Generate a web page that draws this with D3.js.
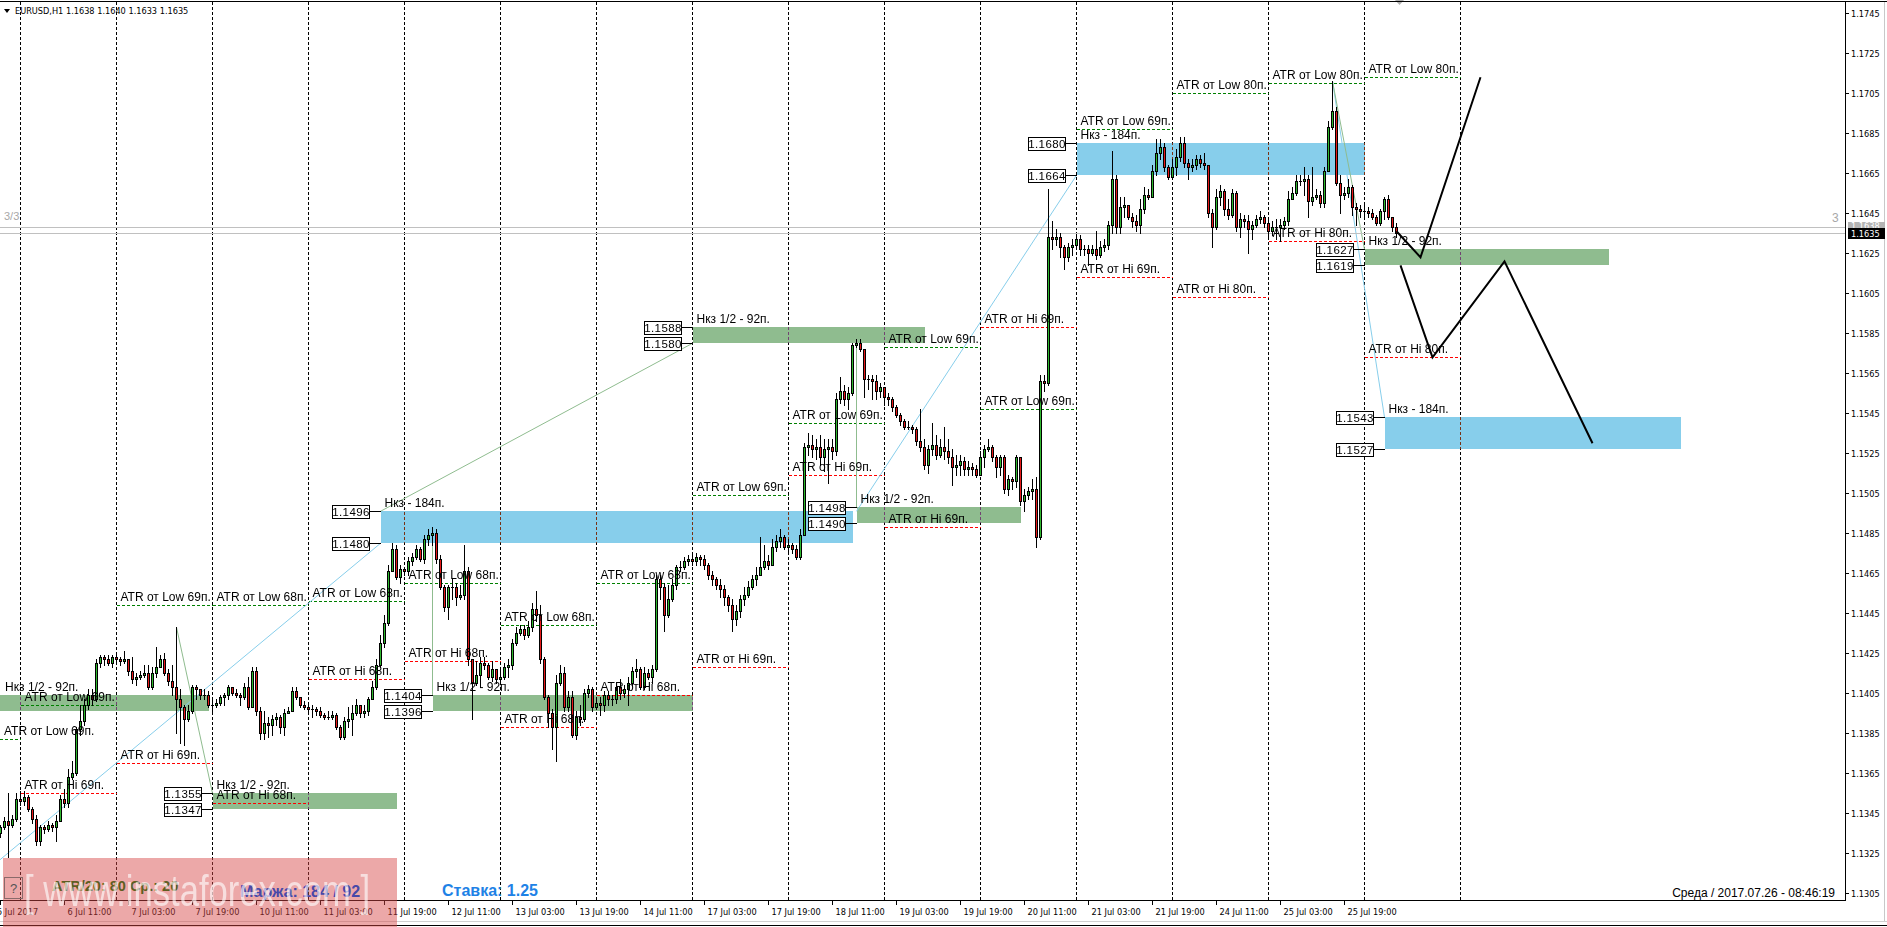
<!DOCTYPE html>
<html><head><meta charset="utf-8">
<script src="https://cdn.jsdelivr.net/npm/d3@7"></script>
<style>
html,body{margin:0;padding:0;background:#fff;overflow:hidden}
svg{display:block}
</style></head><body>
<svg id="c" width="1887" height="927"></svg>
<script>
// ---------------- DATA ----------------
const symbolHeader = "EURUSD,H1  1.1638 1.1640 1.1633 1.1635";
const tradingDays = ["5 Jul","6 Jul","7 Jul","10 Jul","11 Jul","12 Jul","13 Jul","14 Jul","17 Jul","18 Jul","19 Jul","20 Jul","21 Jul","24 Jul","25 Jul","26 Jul"];
const firstBarHour = 19;   // first bar: 5 Jul 19:00 (H1 bars)

const opens = [
1.1335,1.1338,1.1341,1.1339,1.1342,
1.1352,1.1351,1.1353,1.1347,1.1342,1.1331,1.1338,1.1337,1.1339,1.1338,1.1341,1.1352,1.1350,1.1363,1.1365,1.1387,1.1391,1.1399,1.1404,1.1402,1.1420,1.1423,1.1422,1.1420,
1.1423,1.1422,1.1421,1.1422,1.1416,1.1412,1.1413,1.1414,1.1415,1.1408,1.1415,1.1418,1.1422,1.1415,1.1411,1.1408,1.1402,1.1398,1.1392,1.1396,1.1408,1.1407,1.1404,1.1404,
1.1399,1.1399,1.1400,1.1403,1.1404,1.1408,1.1405,1.1404,1.1403,1.1408,1.1398,1.1416,1.1396,1.1385,1.1390,1.1389,1.1392,1.1393,1.1388,1.1395,1.1396,1.1406,1.1403,1.1399,
1.1398,1.1397,1.1397,1.1396,1.1394,1.1393,1.1393,1.1394,1.1388,1.1383,1.1391,1.1392,1.1395,1.1399,1.1395,1.1396,1.1402,1.1408,1.1419,1.1430,1.1440,1.1466,1.1477,1.1463,
1.1467,1.1466,1.1471,1.1473,1.1477,1.1472,1.1482,1.1484,1.1485,1.1472,1.1458,1.1448,1.1458,1.1458,1.1453,1.1454,1.1466,1.1422,1.1410,1.1414,1.1420,1.1419,1.1413,1.1417,
1.1412,1.1413,1.1418,1.1419,1.1430,1.1435,1.1437,1.1434,1.1438,1.1447,1.1444,1.1422,1.1403,1.1395,1.1388,1.1410,1.1415,1.1398,1.1403,1.1384,1.1393,1.1392,1.1405,1.1407,
1.1398,1.1400,1.1399,1.1404,1.1402,1.1402,1.1408,1.1405,1.1407,1.1410,1.1416,1.1417,1.1408,1.1415,1.1413,1.1417,1.1462,1.1458,1.1444,1.1452,1.1459,1.1468,1.1468,1.1471,
1.1472,1.1471,1.1473,1.1472,1.1469,1.1464,1.1462,1.1459,1.1457,1.1453,1.1449,1.1442,1.1446,1.1452,1.1454,1.1458,1.1462,1.1464,1.1468,1.1471,1.1469,1.1478,1.1481,1.1483,
1.1478,1.1479,1.1477,1.1473,1.1484,1.1528,1.1529,1.1527,1.1528,1.1523,1.1527,1.1528,1.1526,1.1552,1.1556,1.1552,1.1555,1.1579,1.1580,1.1577,1.1562,1.1562,1.1561,1.1556,
1.1558,1.1553,1.1552,1.1548,1.1544,1.1541,1.1538,1.1538,1.1537,1.1531,1.1528,1.1519,1.1527,1.1529,1.1524,1.1528,1.1526,1.1523,1.1518,1.1519,1.1521,1.1517,1.1518,1.1517,
1.1514,1.1523,1.1527,1.1528,1.1523,1.1518,1.1523,1.1507,1.1512,1.1511,1.1523,1.1501,1.1504,1.1506,1.1507,1.1483,1.1561,1.1560,1.1633,1.1632,1.1633,1.1628,1.1623,1.1628,
1.1629,1.1632,1.1627,1.1627,1.1625,1.1627,1.1624,1.1628,1.1629,1.1639,1.1662,1.1638,1.1648,1.1649,1.1643,1.1641,1.1639,1.1647,1.1654,1.1653,1.1666,1.1675,1.1678,1.1668,
1.1663,1.1668,1.1673,1.1680,1.1670,1.1668,1.1669,1.1672,1.1670,1.1669,1.1645,1.1638,1.1653,1.1656,1.1647,1.1644,1.1655,1.1638,1.1642,1.1641,1.1637,1.1639,1.1642,1.1643,
1.1640,1.1636,1.1638,1.1638,1.1639,1.1641,1.1652,1.1655,1.1661,1.1661,1.1662,1.1651,1.1653,1.1654,1.1650,1.1666,1.1688,1.1696,1.1660,1.1654,1.1655,1.1658,1.1648,1.1647,
1.1646,1.1646,1.1645,1.1643,1.1640,1.1646,1.1652,1.1643,1.1638];

const highs = [
1.1339,1.1343,1.1355,1.1344,1.1355,
1.1356,1.1356,1.1354,1.1348,1.1344,1.1339,1.1339,1.1341,1.1340,1.1344,1.1354,1.1357,1.1367,1.1371,1.1388,1.1399,1.1402,1.1407,1.1407,1.1422,1.1424,1.1424,1.1424,1.1424,
1.1424,1.1423,1.1426,1.1422,1.1423,1.1415,1.1416,1.1419,1.1419,1.1418,1.1428,1.1424,1.1425,1.1417,1.1419,1.1438,1.1407,1.1399,1.1399,1.1409,1.1409,1.1407,1.1407,1.1406,
1.1402,1.1402,1.1404,1.1405,1.1409,1.1408,1.1407,1.1405,1.1410,1.1413,1.1418,1.1418,1.1398,1.1396,1.1393,1.1394,1.1395,1.1394,1.1397,1.1398,1.1408,1.1408,1.1403,1.1401,
1.1400,1.1399,1.1398,1.1398,1.1395,1.1396,1.1396,1.1395,1.1389,1.1393,1.1398,1.1399,1.1402,1.1399,1.1399,1.1403,1.1411,1.1422,1.1434,1.1444,1.1469,1.1480,1.1479,1.1469,
1.1468,1.1473,1.1475,1.1479,1.1478,1.1484,1.1487,1.1488,1.1487,1.1474,1.1459,1.1459,1.1462,1.1460,1.1459,1.1479,1.1468,1.1421,1.1421,1.1423,1.1423,1.1420,1.1421,1.1416,
1.1417,1.1420,1.1422,1.1432,1.1438,1.1439,1.1439,1.1441,1.1450,1.1456,1.1449,1.1423,1.1404,1.1397,1.1414,1.1419,1.1418,1.1406,1.1406,1.1396,1.1399,1.1407,1.1409,1.1408,
1.1403,1.1403,1.1406,1.1406,1.1404,1.1410,1.1412,1.1409,1.1413,1.1418,1.1422,1.1418,1.1418,1.1417,1.1419,1.1464,1.1464,1.1460,1.1459,1.1462,1.1469,1.1471,1.1473,1.1474,
1.1474,1.1475,1.1474,1.1474,1.1470,1.1466,1.1463,1.1462,1.1459,1.1454,1.1452,1.1449,1.1454,1.1458,1.1461,1.1464,1.1468,1.1483,1.1479,1.1474,1.1482,1.1484,1.1487,1.1484,
1.1482,1.1480,1.1479,1.1487,1.1530,1.1535,1.1534,1.1532,1.1534,1.1532,1.1532,1.1532,1.1555,1.1563,1.1559,1.1558,1.1580,1.1582,1.1582,1.1577,1.1564,1.1564,1.1564,1.1560,
1.1557,1.1555,1.1553,1.1549,1.1545,1.1542,1.1541,1.1539,1.1538,1.1547,1.1532,1.1529,1.1540,1.1534,1.1532,1.1538,1.1532,1.1527,1.1524,1.1524,1.1523,1.1521,1.1520,1.1519,
1.1526,1.1529,1.1532,1.1529,1.1524,1.1524,1.1524,1.1514,1.1513,1.1524,1.1523,1.1507,1.1508,1.1512,1.1513,1.1564,1.1564,1.1657,1.1641,1.1637,1.1635,1.1629,1.1630,1.1632,
1.1634,1.1634,1.1629,1.1629,1.1629,1.1636,1.1631,1.1632,1.1641,1.1676,1.1664,1.1653,1.1653,1.1649,1.1645,1.1644,1.1652,1.1658,1.1657,1.1669,1.1682,1.1682,1.1680,1.1669,
1.1672,1.1677,1.1683,1.1683,1.1672,1.1672,1.1674,1.1674,1.1675,1.1669,1.1647,1.1657,1.1659,1.1657,1.1652,1.1657,1.1656,1.1645,1.1644,1.1644,1.1641,1.1644,1.1646,1.1644,
1.1643,1.1641,1.1642,1.1642,1.1643,1.1656,1.1658,1.1664,1.1664,1.1668,1.1664,1.1668,1.1657,1.1656,1.1668,1.1691,1.1711,1.1698,1.1664,1.1658,1.1662,1.1659,1.1650,1.1649,
1.1649,1.1648,1.1647,1.1644,1.1647,1.1653,1.1654,1.1643,1.1640];

const lows = [
1.1333,1.1337,1.1323,1.1338,1.1341,
1.1349,1.1349,1.1346,1.1340,1.1329,1.1329,1.1335,1.1336,1.1336,1.1331,1.1341,1.1348,1.1348,1.1362,1.1364,1.1384,1.1389,1.1397,1.1399,1.1401,1.1418,1.1419,1.1419,1.1418,
1.1421,1.1419,1.1420,1.1414,1.1410,1.1409,1.1412,1.1413,1.1407,1.1407,1.1413,1.1418,1.1414,1.1409,1.1404,1.1385,1.1380,1.1379,1.1391,1.1395,1.1402,1.1402,1.1402,1.1398,
1.1396,1.1398,1.1399,1.1399,1.1402,1.1404,1.1403,1.1399,1.1402,1.1397,1.1398,1.1394,1.1382,1.1382,1.1383,1.1384,1.1389,1.1385,1.1384,1.1395,1.1396,1.1402,1.1398,1.1397,
1.1395,1.1393,1.1394,1.1393,1.1392,1.1392,1.1392,1.1387,1.1382,1.1382,1.1388,1.1384,1.1394,1.1393,1.1393,1.1394,1.1402,1.1407,1.1418,1.1428,1.1439,1.1466,1.1462,1.1460,
1.1464,1.1464,1.1469,1.1472,1.1471,1.1470,1.1479,1.1479,1.1470,1.1457,1.1446,1.1442,1.1452,1.1449,1.1452,1.1452,1.1419,1.1392,1.1409,1.1408,1.1417,1.1412,1.1411,1.1410,
1.1411,1.1412,1.1413,1.1417,1.1429,1.1434,1.1432,1.1433,1.1436,1.1441,1.1420,1.1402,1.1388,1.1377,1.1371,1.1409,1.1396,1.1396,1.1383,1.1382,1.1389,1.1391,1.1403,1.1396,
1.1397,1.1394,1.1396,1.1399,1.1399,1.1400,1.1402,1.1403,1.1399,1.1409,1.1413,1.1407,1.1407,1.1412,1.1410,1.1416,1.1452,1.1436,1.1443,1.1451,1.1457,1.1466,1.1467,1.1469,
1.1469,1.1469,1.1469,1.1467,1.1462,1.1459,1.1457,1.1453,1.1449,1.1446,1.1436,1.1439,1.1443,1.1449,1.1453,1.1457,1.1459,1.1464,1.1467,1.1467,1.1472,1.1476,1.1478,1.1477,
1.1476,1.1475,1.1472,1.1472,1.1484,1.1524,1.1523,1.1522,1.1519,1.1516,1.1510,1.1522,1.1524,1.1550,1.1549,1.1547,1.1554,1.1578,1.1576,1.1553,1.1557,1.1552,1.1552,1.1553,
1.1549,1.1549,1.1546,1.1543,1.1539,1.1537,1.1537,1.1535,1.1529,1.1526,1.1517,1.1515,1.1524,1.1522,1.1523,1.1522,1.1520,1.1509,1.1514,1.1514,1.1514,1.1514,1.1514,1.1513,
1.1517,1.1518,1.1526,1.1521,1.1513,1.1514,1.1505,1.1504,1.1507,1.1508,1.1499,1.1496,1.1502,1.1502,1.1478,1.1482,1.1556,1.1559,1.1627,1.1629,1.1623,1.1617,1.1621,1.1624,
1.1627,1.1624,1.1624,1.1619,1.1624,1.1622,1.1623,1.1626,1.1627,1.1635,1.1635,1.1635,1.1643,1.1642,1.1638,1.1636,1.1635,1.1645,1.1652,1.1653,1.1664,1.1672,1.1666,1.1662,
1.1662,1.1664,1.1671,1.1668,1.1662,1.1666,1.1667,1.1668,1.1667,1.1643,1.1628,1.1637,1.1649,1.1644,1.1642,1.1643,1.1636,1.1633,1.1638,1.1625,1.1632,1.1638,1.1640,1.1638,
1.1633,1.1634,1.1632,1.1631,1.1637,1.1639,1.1652,1.1654,1.1659,1.1654,1.1643,1.1649,1.1652,1.1648,1.1648,1.1666,1.1687,1.1659,1.1645,1.1652,1.1653,1.1644,1.1639,1.1643,
1.1643,1.1643,1.1642,1.1639,1.1639,1.1642,1.1642,1.1636,1.1633];

const closes = [
1.1338,1.1341,1.1339,1.1342,1.1352,
1.1351,1.1353,1.1347,1.1342,1.1331,1.1338,1.1337,1.1339,1.1338,1.1341,1.1352,1.1350,1.1363,1.1365,1.1387,1.1391,1.1399,1.1404,1.1402,1.1420,1.1423,1.1422,1.1420,1.1423,
1.1422,1.1421,1.1422,1.1416,1.1412,1.1413,1.1414,1.1415,1.1408,1.1415,1.1418,1.1422,1.1415,1.1411,1.1408,1.1402,1.1398,1.1392,1.1396,1.1408,1.1407,1.1404,1.1404,1.1399,
1.1399,1.1400,1.1403,1.1404,1.1408,1.1405,1.1404,1.1403,1.1408,1.1398,1.1416,1.1396,1.1385,1.1390,1.1389,1.1392,1.1393,1.1388,1.1395,1.1396,1.1406,1.1403,1.1399,1.1398,
1.1397,1.1397,1.1396,1.1394,1.1393,1.1393,1.1394,1.1388,1.1383,1.1391,1.1392,1.1395,1.1399,1.1395,1.1396,1.1402,1.1408,1.1419,1.1430,1.1440,1.1466,1.1477,1.1463,1.1467,
1.1466,1.1471,1.1473,1.1477,1.1472,1.1482,1.1484,1.1485,1.1472,1.1458,1.1448,1.1458,1.1458,1.1453,1.1454,1.1466,1.1422,1.1410,1.1414,1.1420,1.1419,1.1413,1.1417,1.1412,
1.1413,1.1418,1.1419,1.1430,1.1435,1.1437,1.1434,1.1438,1.1447,1.1444,1.1422,1.1403,1.1395,1.1388,1.1410,1.1415,1.1398,1.1403,1.1384,1.1393,1.1392,1.1405,1.1407,1.1398,
1.1400,1.1399,1.1404,1.1402,1.1402,1.1408,1.1405,1.1407,1.1410,1.1416,1.1417,1.1408,1.1415,1.1413,1.1417,1.1462,1.1458,1.1444,1.1452,1.1459,1.1468,1.1468,1.1471,1.1472,
1.1471,1.1473,1.1472,1.1469,1.1464,1.1462,1.1459,1.1457,1.1453,1.1449,1.1442,1.1446,1.1452,1.1454,1.1458,1.1462,1.1464,1.1468,1.1471,1.1469,1.1478,1.1481,1.1483,1.1478,
1.1479,1.1477,1.1473,1.1484,1.1528,1.1529,1.1527,1.1528,1.1523,1.1527,1.1528,1.1526,1.1552,1.1556,1.1552,1.1555,1.1579,1.1580,1.1577,1.1562,1.1562,1.1561,1.1556,1.1558,
1.1553,1.1552,1.1548,1.1544,1.1541,1.1538,1.1538,1.1537,1.1531,1.1528,1.1519,1.1527,1.1529,1.1524,1.1528,1.1526,1.1523,1.1518,1.1519,1.1521,1.1517,1.1518,1.1517,1.1514,
1.1523,1.1527,1.1528,1.1523,1.1518,1.1523,1.1507,1.1512,1.1511,1.1523,1.1501,1.1504,1.1506,1.1507,1.1483,1.1561,1.1560,1.1633,1.1632,1.1633,1.1628,1.1623,1.1628,1.1629,
1.1632,1.1627,1.1627,1.1625,1.1627,1.1624,1.1628,1.1629,1.1639,1.1662,1.1638,1.1648,1.1649,1.1643,1.1641,1.1639,1.1647,1.1654,1.1653,1.1666,1.1675,1.1678,1.1668,1.1663,
1.1668,1.1673,1.1680,1.1670,1.1668,1.1669,1.1672,1.1670,1.1669,1.1645,1.1638,1.1653,1.1656,1.1647,1.1644,1.1655,1.1638,1.1642,1.1641,1.1637,1.1639,1.1642,1.1643,1.1640,
1.1636,1.1638,1.1638,1.1639,1.1641,1.1652,1.1655,1.1661,1.1661,1.1662,1.1651,1.1653,1.1654,1.1650,1.1666,1.1688,1.1696,1.1660,1.1654,1.1655,1.1658,1.1648,1.1647,1.1646,
1.1646,1.1645,1.1643,1.1640,1.1646,1.1652,1.1643,1.1638,1.1635];

const timeLabels = ["5 Jul 2017","6 Jul 11:00","7 Jul 03:00","7 Jul 19:00","10 Jul 11:00","11 Jul 03:00","11 Jul 19:00","12 Jul 11:00","13 Jul 03:00","13 Jul 19:00","14 Jul 11:00","17 Jul 03:00","17 Jul 19:00","18 Jul 11:00","19 Jul 03:00","19 Jul 19:00","20 Jul 11:00","21 Jul 03:00","21 Jul 19:00","24 Jul 11:00","25 Jul 03:00","25 Jul 19:00"];
const priceTicks = [1.1745,1.1725,1.1705,1.1685,1.1665,1.1645,1.1625,1.1605,1.1585,1.1565,1.1545,1.1525,1.1505,1.1485,1.1465,1.1445,1.1425,1.1405,1.1385,1.1365,1.1345,1.1325,1.1305];

// daily ATR levels (one per trading day), price and pips
const atrLowLevels = [1.1382,1.1399,1.1449,1.1449,1.1451,1.1460,1.1439,1.1460,1.1504,1.1540,1.1578,1.1547,1.1687,1.1705,1.1710,1.1713];
const atrLowPips   = [69,69,69,68,68,68,68,68,69,69,69,69,69,80,80,80];
const atrHiLevels  = [null,1.1355,1.1370,1.1350,1.1412,1.1421,1.1388,1.1404,1.1418,1.1514,1.1488,1.1588,1.1613,1.1603,1.1631,1.1573];
const atrHiPips    = [69,69,69,68,68,68,68,68,69,69,69,69,69,80,80,80];

// zones: bar indices (0 = 5 Jul 19:00), price top/bottom
const zoneKind   = ["half","half","half","half","half","half","full","full","full"];
const zoneStart  = [-9, 53, 108, 173, 214, 341, 95, 269, 346];
const zoneEnd    = [52, 99, 173, 231, 255, 402, 213, 341, 420];
const zoneTop    = [1.1404,1.1355,1.1404,1.1588,1.1498,1.1627,1.1496,1.1680,1.1543];
const zoneBottom = [1.1396,1.1347,1.1396,1.1580,1.1490,1.1619,1.1480,1.1664,1.1527];
const zoneLabelText = {half:"Нкз 1/2 - 92п.", full:"Нкз - 184п."};

// thin connector trendlines [bar, price] -> [bar, price]
const blueLines  = [[[-3,1.1317],[95,1.1480]], [[214,1.1496],[269,1.1664]], [[333,1.1711],[346,1.1543]]];
const greenLines = [[[44,1.1438],[53,1.1355]], [[95,1.1496],[173,1.1580]], [[108,1.1488],[108,1.1404]], [[214,1.1582],[214,1.1498]], [[333,1.1711],[341,1.1627]]];

// hand-drawn forecast paths
const forecastA = [[349,1.1636],[355,1.1623],[370,1.1713]];
const forecastB = [[350,1.1619],[358,1.1573],[376,1.1621],[398,1.1530]];

const askPrice = 1.1638, bidPrice = 1.1635;
const infoAtr = "ATR/20: 80 Ср.: 20", infoMargin = "Маржа: 184 / 92", infoRate = "Ставка: 1.25";
const footerDate = "Среда / 2017.07.26 - 08:46:19";

// ---------------- DRAW ----------------
const svg = d3.select("#c");
const plotR = 1845, plotB = 900, plotT = 2;
const x = d3.scaleLinear().domain([0, 1]).range([0.5, 4.5]);
const y = d3.scaleLinear().domain([1.1300, 1.1745]).range([903.3, 13.3]);
const sans = "'Liberation Sans', Arial, sans-serif";
const small = "'DejaVu Sans', Tahoma, sans-serif";

svg.append("rect").attr("width",1887).attr("height",927).attr("fill","#fff");
svg.append("defs").append("clipPath").attr("id","pc").append("rect")
  .attr("x",0).attr("y",plotT).attr("width",plotR).attr("height",plotB-plotT);
const plot = svg.append("g").attr("clip-path","url(#pc)");
plot.append("rect").attr("x",0).attr("y",0).attr("width",plotR).attr("height",plotB).attr("fill","#fff");

// bar times
const barTimes = [];
tradingDays.forEach((d,di)=>{
  const h0 = di===0 ? firstBarHour : 0;
  for(let h=h0; h<24 && barTimes.length<closes.length; h++) barTimes.push(d+" "+String(h).padStart(2,"0")+":00");
});
const dayStart = tradingDays.map((d,di)=> barTimes.indexOf(d+" "+(di===0? String(firstBarHour).padStart(2,"0"):"00")+":00") - (di===0?firstBarHour:0));
dayStart.push(dayStart[dayStart.length-1]+24);

const colGreenZone="#8fbc8f", colBlueZone="#87ceeb";
const py = p => Math.round(y(p));

// zones
const gz = plot.append("g").attr("shape-rendering","crispEdges");
zoneStart.forEach((s,i)=>{
  const x0 = x(s), x1 = x(zoneEnd[i]);
  gz.append("rect").attr("x",x0).attr("y",py(zoneTop[i])).attr("width",x1-x0)
    .attr("height",py(zoneBottom[i])-py(zoneTop[i]))
    .attr("fill", zoneKind[i]==="half"?colGreenZone:colBlueZone);
});

// day separators (inverted over zones like MT4)
const gs = plot.append("g").attr("shape-rendering","crispEdges").style("mix-blend-mode","difference");
dayStart.slice(1).forEach(ds=>{
  gs.append("line").attr("x1",Math.floor(x(ds))+0.5).attr("x2",Math.floor(x(ds))+0.5)
    .attr("y1",plotT).attr("y2",plotB).attr("stroke","#fff").attr("stroke-dasharray","3,2");
});

// ATR lines
const ga = plot.append("g").attr("shape-rendering","crispEdges");
tradingDays.forEach((d,di)=>{
  const xa = Math.floor(x(dayStart[di]))+0.5, xb = Math.floor(x(dayStart[di+1]))+0.5;
  if(atrLowLevels[di]!=null) ga.append("line").attr("x1",xa).attr("x2",xb).attr("y1",py(atrLowLevels[di])+0.5).attr("y2",py(atrLowLevels[di])+0.5)
    .attr("stroke","#008000").attr("stroke-dasharray","3,2");
  if(atrHiLevels[di]!=null) ga.append("line").attr("x1",xa).attr("x2",xb).attr("y1",py(atrHiLevels[di])+0.5).attr("y2",py(atrHiLevels[di])+0.5)
    .attr("stroke","#ff0000").attr("stroke-dasharray","3,2");
});

// thin trendlines
blueLines.forEach(l=> plot.append("line").attr("x1",x(l[0][0])).attr("y1",y(l[0][1])).attr("x2",x(l[1][0])).attr("y2",y(l[1][1]))
  .attr("stroke","#87ceeb").attr("stroke-width",1));
greenLines.forEach(l=> plot.append("line").attr("x1",x(l[0][0])).attr("y1",y(l[0][1])).attr("x2",x(l[1][0])).attr("y2",y(l[1][1]))
  .attr("stroke","#8fbc8f").attr("stroke-width",1));

// ask / bid lines
[askPrice,bidPrice].forEach(p=> plot.append("line").attr("x1",0).attr("x2",plotR).attr("y1",py(p)+0.5).attr("y2",py(p)+0.5)
  .attr("stroke","#c0c0c0").attr("shape-rendering","crispEdges"));

// candles
const gc = plot.append("g").attr("shape-rendering","crispEdges");
closes.forEach((c,i)=>{
  const o=opens[i], h=Math.max(highs[i],o,c), l=Math.min(lows[i],o,c);
  const cx = Math.floor(x(i));
  gc.append("line").attr("x1",cx+0.5).attr("x2",cx+0.5).attr("y1",py(h)).attr("y2",py(l)+1).attr("stroke","#000");
  const yo=py(o), yc=py(c), top=Math.min(yo,yc), bot=Math.max(yo,yc);
  if(bot-top<1){
    gc.append("line").attr("x1",cx-1).attr("x2",cx+2).attr("y1",top+0.5).attr("y2",top+0.5).attr("stroke","#000");
  } else {
    gc.append("rect").attr("x",cx-0.5).attr("y",top+0.5).attr("width",2).attr("height",bot-top)
      .attr("fill", c>=o ? "#2eb82e" : "#e61919").attr("stroke","#000");
  }
});

// labels
const gt = plot.append("g").attr("font-family",sans).attr("font-size",12).attr("fill","#000");
tradingDays.forEach((d,di)=>{
  const xl = Math.max(x(dayStart[di]),0)+4;
  if(atrLowLevels[di]!=null) gt.append("text").attr("x",xl).attr("y",y(atrLowLevels[di])-4.5).text("ATR от Low "+atrLowPips[di]+"п.");
  if(atrHiLevels[di]!=null) gt.append("text").attr("x",xl).attr("y",y(atrHiLevels[di])-4.5).text("ATR от Hi "+atrHiPips[di]+"п.");
});
zoneStart.forEach((s,i)=>{
  const x0 = x(s);
  gt.append("text").attr("x",Math.max(x0,1)+4).attr("y",y(zoneTop[i])-4.5).text(zoneLabelText[zoneKind[i]]);
  if(x0>0){
    [zoneTop[i],zoneBottom[i]].forEach(p=>{
      const yy = py(p)+0.5, bx = Math.floor(x0)-47.5;
      gt.append("line").attr("x1",bx+37).attr("x2",x0).attr("y1",yy).attr("y2",yy).attr("stroke","#000").attr("shape-rendering","crispEdges");
      gt.append("rect").attr("x",bx).attr("y",yy-6.5).attr("width",37).attr("height",13).attr("fill","#fff").attr("stroke","#000").attr("shape-rendering","crispEdges");
      gt.append("text").attr("x",bx+18.5).attr("y",yy+4).attr("text-anchor","middle").attr("font-size",11.5).attr("letter-spacing",0.4).text(p.toFixed(4));
    });
  }
});

// forecast paths
const lineGen = d3.line().x(d=>x(d[0])).y(d=>y(d[1]));
[forecastA,forecastB].forEach(f=> plot.append("path").attr("d",lineGen(f)).attr("fill","none").attr("stroke","#000").attr("stroke-width",2));

// 3/3 markers
svg.append("text").attr("x",4).attr("y",220).attr("font-family",sans).attr("font-size",11).attr("fill","#a8a8a8").text("3/3");
svg.append("text").attr("x",1832).attr("y",222).attr("font-family",sans).attr("font-size",12).attr("fill","#a8a8a8").text("3");

// header
svg.append("path").attr("d","M4,9 L10,9 L7,13 Z").attr("fill","#000");
svg.append("text").attr("x",15).attr("y",14).attr("font-family",small).attr("font-size",8.2).attr("fill","#000").text(symbolHeader);
svg.append("path").attr("d","M1395,0 L1404,0 L1399.5,5 Z").attr("fill","#b0b0b0");

// frame
const gf = svg.append("g").attr("shape-rendering","crispEdges").attr("stroke","#000");
gf.append("line").attr("x1",0).attr("x2",1887).attr("y1",1.5).attr("y2",1.5);
gf.append("line").attr("x1",plotR+0.5).attr("x2",plotR+0.5).attr("y1",1.5).attr("y2",plotB+0.5);
gf.append("line").attr("x1",0).attr("x2",plotR+0.5).attr("y1",plotB+0.5).attr("y2",plotB+0.5);
svg.append("line").attr("x1",1884.5).attr("x2",1884.5).attr("y1",2).attr("y2",922).attr("stroke","#c8c8c8").attr("shape-rendering","crispEdges");
svg.append("line").attr("x1",0).attr("x2",1887).attr("y1",921.5).attr("y2",921.5).attr("stroke","#d0d0d0").attr("shape-rendering","crispEdges");
svg.append("line").attr("x1",0).attr("x2",1887).attr("y1",925.5).attr("y2",925.5).attr("stroke","#000").attr("shape-rendering","crispEdges");

// price axis
const gy = svg.append("g").attr("font-family",small).attr("font-size",8.2).attr("fill","#000");
priceTicks.forEach(p=>{
  const yy = py(p)+0.5;
  gy.append("line").attr("x1",plotR).attr("x2",plotR+4).attr("y1",yy).attr("y2",yy).attr("stroke","#000").attr("shape-rendering","crispEdges");
  gy.append("text").attr("x",plotR+6).attr("y",yy+3).text(p.toFixed(4));
});
// price labels for ask/bid
gy.append("rect").attr("x",plotR+3).attr("y",py(askPrice)-5).attr("width",37).attr("height",9).attr("fill","#b4b4b4");
gy.append("text").attr("x",plotR+6).attr("y",py(askPrice)+2).attr("fill","#fff").text(askPrice.toFixed(4));
gy.append("rect").attr("x",plotR+3).attr("y",py(bidPrice)-5).attr("width",37).attr("height",11).attr("fill","#000");
gy.append("text").attr("x",plotR+6).attr("y",py(bidPrice)+3.5).attr("fill","#fff").text(bidPrice.toFixed(4));

// time axis
const gx = svg.append("g").attr("font-family",small).attr("font-size",8.2).attr("fill","#000");
timeLabels.forEach((t,j)=>{
  let bi = barTimes.indexOf(t); if(bi<0) bi = 0;
  const xx = Math.floor(x(bi))+0.5;
  gx.append("line").attr("x1",xx).attr("x2",xx).attr("y1",plotB).attr("y2",plotB+5).attr("stroke","#000").attr("shape-rendering","crispEdges");
  gx.append("text").attr("x", j===0 ? -3 : xx+3).attr("y",915).text(t);
});

// bottom-left info panel with watermark
svg.append("rect").attr("x",3).attr("y",858).attr("width",394).attr("height",69).attr("fill","rgb(214,70,70)").attr("opacity",0.47);
svg.append("rect").attr("x",4.5).attr("y",877.5).attr("width",18).attr("height",21).attr("fill","none").attr("stroke","#8a6a6a").attr("shape-rendering","crispEdges");
svg.append("text").attr("x",13.5).attr("y",893).attr("text-anchor","middle").attr("font-family",sans).attr("font-size",13).attr("fill","#555").text("?");
svg.append("text").attr("x",52).attr("y",891).attr("font-family",sans).attr("font-size",14.5).attr("font-weight","bold").attr("fill","#5e5e22").text(infoAtr);
svg.append("text").attr("x",240).attr("y",897).attr("font-family",sans).attr("font-size",16).attr("font-weight","bold").attr("fill","#4848a8").text(infoMargin);
svg.append("text").attr("x",442).attr("y",896).attr("font-family",sans).attr("font-size",16).attr("font-weight","bold").attr("fill","#1e82e6").text(infoRate);
svg.append("text").attr("x",24).attr("y",906).attr("font-family",sans).attr("font-size",44).attr("fill","#fff").attr("opacity",0.62)
  .attr("textLength",346).attr("lengthAdjust","spacingAndGlyphs").text("[ www.instaforex.com ]");

// footer date
svg.append("text").attr("x",1835).attr("y",897).attr("text-anchor","end").attr("font-family",sans).attr("font-size",12).attr("fill","#000").text(footerDate);
</script>
</body></html>
